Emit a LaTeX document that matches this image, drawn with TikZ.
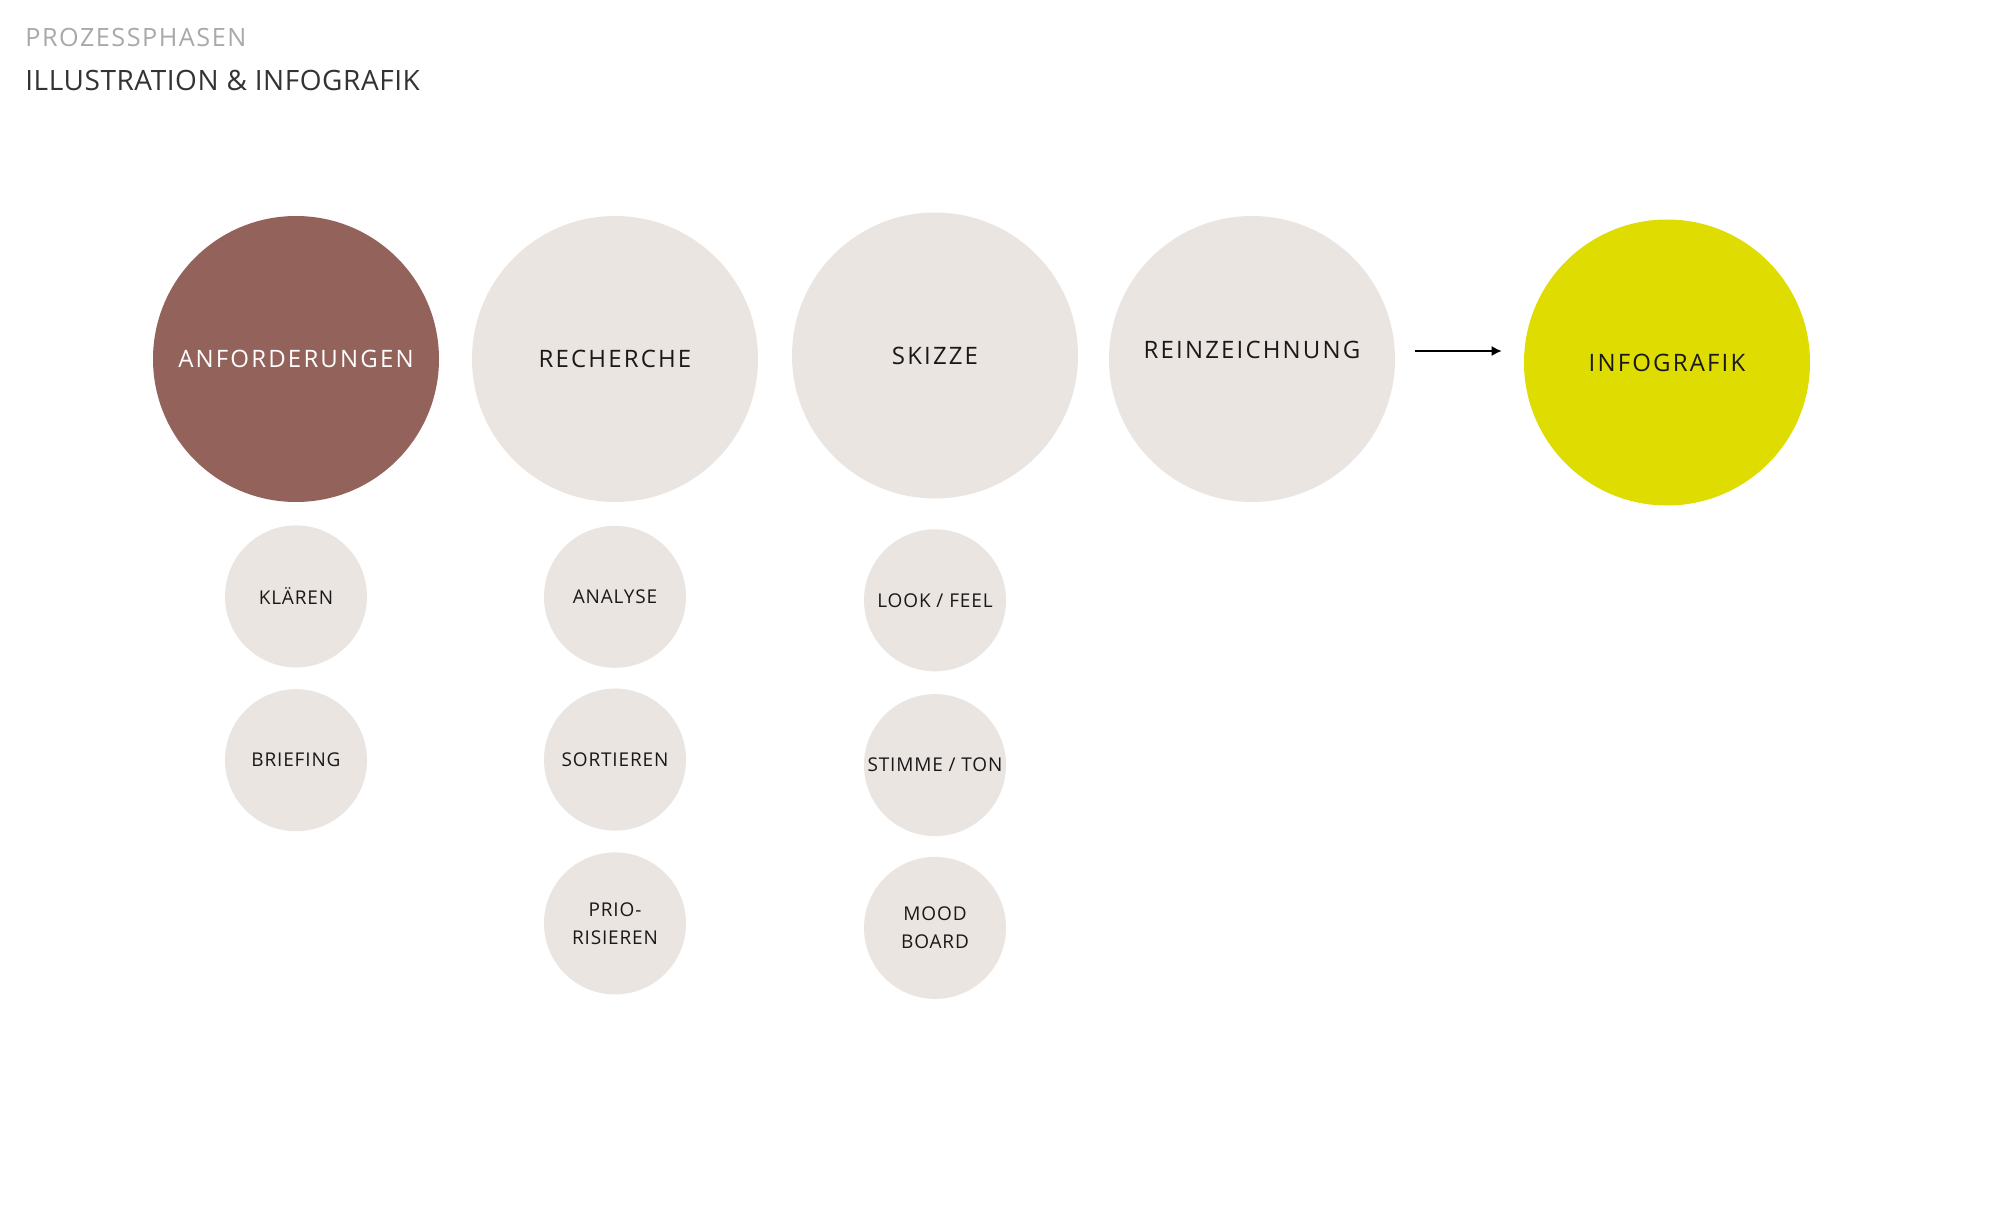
\documentclass[tikz,border=0pt]{standalone}
\usepackage{fontspec}
\setmainfont{Open Sans}
\newfontfamily\kopffont[LetterSpace=6]{Open Sans}
\newfontfamily\titelfont[LetterSpace=2]{Open Sans}
\newfontfamily\phasenfont[LetterSpace=9]{Open Sans}
\newfontfamily\kreisfont[LetterSpace=4.5]{Open Sans}
\usepackage{tikz}
\usetikzlibrary{arrows.meta,positioning}
\definecolor{rotbraun}{HTML}{93625A}
\definecolor{hellgrau}{HTML}{EBE5E2}
\definecolor{gelbgruen}{HTML}{DEDC00}
\definecolor{kopfgrau}{HTML}{A9A9A9}
\definecolor{kopfdunkel}{HTML}{333333}
\tikzset{>=latex}
\tikzset{
  phase/.style={circle,minimum size=143pt,inner sep=0pt,fill=hellgrau,text=black!90,
    text height=8.6pt,text depth=0pt,font=\phasenfont\fontsize{12}{14}\selectfont},
  schritt/.style={circle,minimum size=71pt,inner sep=0pt,fill=hellgrau,text=black!90,
    align=center,font=\kreisfont\fontsize{9.5}{14}\selectfont},
  kopf/.style={anchor=base west,inner sep=0pt},
}

\begin{document}
\begin{tikzpicture}[x=0.5pt,y=-0.5pt]
    \useasboundingbox[fill=white] (0,0) rectangle (1992,1214);
    \node[kopf,text=kopfgrau,font=\kopffont\fontsize{12.6}{15}\selectfont] (kopfzeile) at (25,47) {PROZESSPHASEN};
    \node[kopf,text=kopfdunkel,font=\titelfont\fontsize{14}{17}\selectfont] (titel) at (25,91) {ILLUSTRATION \& INFOGRAFIK};
    % phasen
    \node[phase,fill=rotbraun,text=white] (anf) at (296,359) {ANFORDERUNGEN};
    \node[phase] (rech) at (615,359) {RECHERCHE};
    \node[phase] (skiz) at (935,355.5) {SKIZZE};
    \node[phase] (rein) at (1252,359) {\raisebox{4.5pt}[\height][\depth]{REINZEICHNUNG}};
    \node[phase,fill=gelbgruen] (info) at (1667,362.5) {INFOGRAFIK};
    \draw[-{Latex[length=5pt,width=5pt]},line width=0.6pt] ([shift={(20,-8)}]rein.east) -- ([shift={(-22,-11.5)}]info.west);
    % schritte
    \node[schritt,below=11.3pt of anf] (klaer) {KLÄREN};
    \node[schritt,below=10.5pt of klaer] (brief) {BRIEFING};
    \node[schritt,below=11.5pt of rech] (analy) {ANALYSE};
    \node[schritt,below=10pt of analy] (sort) {SORTIEREN};
    \node[schritt,below=10.5pt of sort] (prio) {PRIO-\\RISIEREN};
    \node[schritt,below=15pt of skiz] (look) {LOOK / FEEL};
    \node[schritt,below=11pt of look] (stimm) {STIMME / TON};
    \node[schritt,below=10pt of stimm] (mood) {MOOD\\BOARD};
\end{tikzpicture}
\end{document}
